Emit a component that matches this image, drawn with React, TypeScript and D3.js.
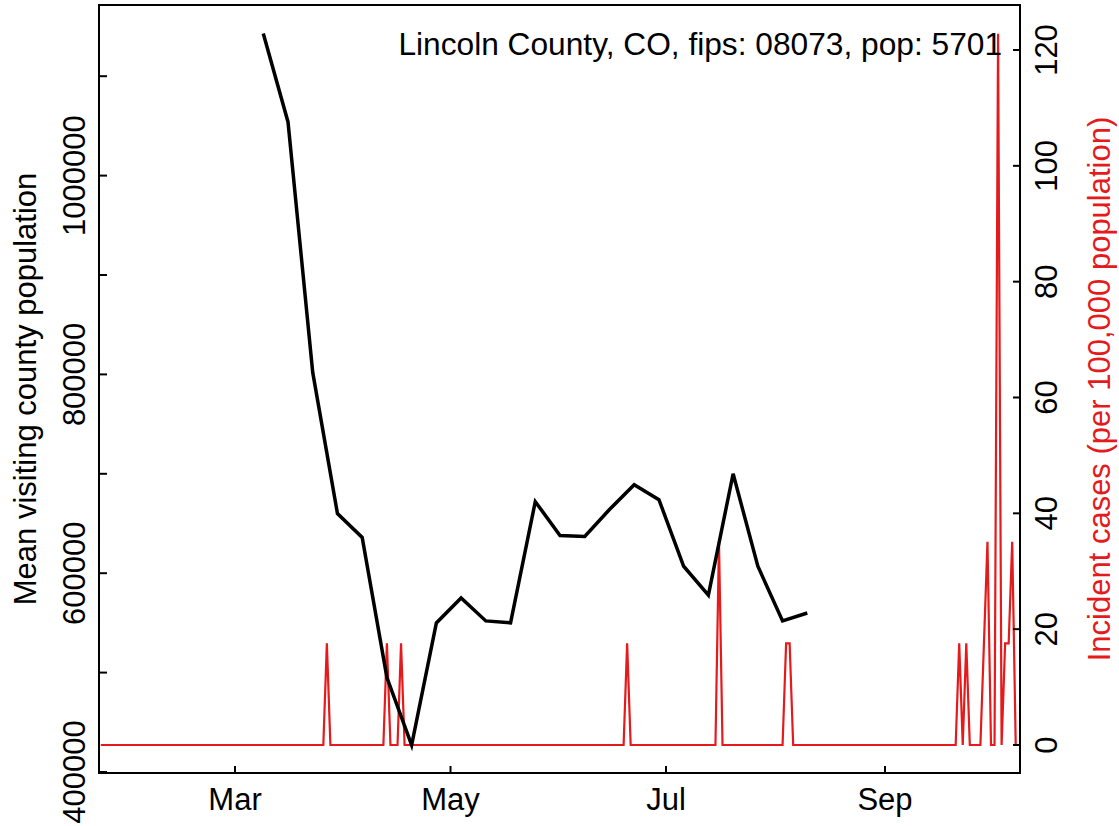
import * as d3 from 'd3';

// weekly mean visiting county population (black line)
const visitWeeks = [
  '2020-03-09', '2020-03-16', '2020-03-23', '2020-03-30', '2020-04-06', '2020-04-13',
  '2020-04-20', '2020-04-27', '2020-05-04', '2020-05-11', '2020-05-18', '2020-05-25',
  '2020-06-01', '2020-06-08', '2020-06-15', '2020-06-22', '2020-06-29', '2020-07-06',
  '2020-07-13', '2020-07-20', '2020-07-27', '2020-08-03', '2020-08-10',
];
const visitPop = [
  1143000, 1054000, 802000, 660000, 636000, 495000, 427000, 550000, 575000, 552000, 550000, 672000,
  638000, 637000, 664000, 689000, 674000, 607000, 578000, 700000, 607000, 552000, 560000,
];

// daily new cases, Jan 23 .. Oct 8 2020
const caseStart = '2020-01-23';
const dailyCases = [
  0, 0, 0, 0, 0, 0, 0, 0, 0, // Jan 23-31
  0, 0, 0, 0, 0, 0, 0, 0, 0, 0, 0, 0, 0, 0, 0, 0, 0, 0, 0, 0, 0, 0, 0, 0, 0, 0, 0, 0, 0, // Feb
  0, 0, 0, 0, 0, 0, 0, 0, 0, 0, 0, 0, 0, 0, 0, 0, 0, 0, 0, 0, 0, 0, 0, 0, 0, 0, 1, 0, 0, 0, 0, // Mar
  0, 0, 0, 0, 0, 0, 0, 0, 0, 0, 0, 0, 1, 0, 0, 0, 1, 0, 0, 0, 0, 0, 0, 0, 0, 0, 0, 0, 0, 0, // Apr
  0, 0, 0, 0, 0, 0, 0, 0, 0, 0, 0, 0, 0, 0, 0, 0, 0, 0, 0, 0, 0, 0, 0, 0, 0, 0, 0, 0, 0, 0, 0, // May
  0, 0, 0, 0, 0, 0, 0, 0, 0, 0, 0, 0, 0, 0, 0, 0, 0, 0, 0, 1, 0, 0, 0, 0, 0, 0, 0, 0, 0, 0, // Jun
  0, 0, 0, 0, 0, 0, 0, 0, 0, 0, 0, 0, 0, 0, 0, 2, 0, 0, 0, 0, 0, 0, 0, 0, 0, 0, 0, 0, 0, 0, 0, // Jul
  0, 0, 0, 1, 1, 0, 0, 0, 0, 0, 0, 0, 0, 0, 0, 0, 0, 0, 0, 0, 0, 0, 0, 0, 0, 0, 0, 0, 0, 0, 0, // Aug
  0, 0, 0, 0, 0, 0, 0, 0, 0, 0, 0, 0, 0, 0, 0, 0, 0, 0, 0, 0, 0, 1, 0, 1, 0, 0, 0, 0, 1, 2, // Sep
  0, 0, 7, 0, 1, 1, 2, 0, // Oct 1-8
];
const population = 5701;

const leftTicks = [400000, 500000, 600000, 700000, 800000, 900000, 1000000, 1100000];
const leftLabels = [400000, 600000, 800000, 1000000];
const rightTicks = [0, 20, 40, 60, 80, 100, 120];
const monthTicks = ['2020-03-01', '2020-05-01', '2020-07-01', '2020-09-01'];

const W = 1119;
const H = 826;
const box = { left: 99, right: 1020, top: 5, bottom: 773 };
const RED = '#e41a1c';
const FONT = '"Liberation Sans", Arial, Helvetica, sans-serif';

const parse = (s: string) => {
  const [y, m, d] = s.split('-').map(Number);
  return new Date(y, m - 1, d);
};

export default function App() {
  const x = d3.scaleTime()
    .domain([new Date(2020, 0, 22, 12), new Date(2020, 9, 9, 5)])
    .range([box.left, box.right]);
  const yL = d3.scaleLinear().domain([400000, 1100000]).range([772, 76.2]);
  const yR = d3.scaleLinear().domain([0, 120]).range([745, 50]);

  const start = parse(caseStart);
  const incid = dailyCases.map((c, i) => ({
    date: d3.timeDay.offset(start, i),
    v: (c * 100000) / population,
  }));
  const visits = visitWeeks.map((d, i) => ({ date: parse(d), v: visitPop[i] }));

  const redLine = d3.line<{ date: Date; v: number }>().x((d) => x(d.date)).y((d) => yR(d.v));
  const blackLine = d3.line<{ date: Date; v: number }>().x((d) => x(d.date)).y((d) => yL(d.v));

  const tick = 8;
  const labY = (box.top + box.bottom) / 2;

  return (
    <svg
      width={W}
      height={H}
      style={{ position: 'absolute', left: 0, top: 0, background: '#fff' }}
      fontFamily={FONT}
    >
      <rect x={0} y={0} width={W} height={H} fill="#fff" />

      <path d={redLine(incid) ?? ''} fill="none" stroke={RED} strokeWidth={2.2} strokeLinejoin="miter" />
      <path d={blackLine(visits) ?? ''} fill="none" stroke="#000" strokeWidth={3.5} strokeLinejoin="miter" />

      <rect
        x={box.left}
        y={box.top}
        width={box.right - box.left}
        height={box.bottom - box.top}
        fill="none"
        stroke="#000"
        strokeWidth={2}
      />

      {/* left axis */}
      {leftTicks.map((t) => (
        <line key={t} x1={box.left} x2={box.left + tick} y1={yL(t)} y2={yL(t)} stroke="#000" strokeWidth={2} />
      ))}
      {leftLabels.map((t) => (
        <text key={t} transform={`translate(85,${yL(t)}) rotate(-90)`} textAnchor="middle" fontSize={31}>
          {t}
        </text>
      ))}
      <text transform={`translate(36,${labY}) rotate(-90)`} textAnchor="middle" fontSize={31}>
        Mean visiting county population
      </text>

      {/* right axis */}
      {rightTicks.map((t) => (
        <g key={t}>
          <line x1={box.right - tick + 1} x2={box.right} y1={yR(t)} y2={yR(t)} stroke="#000" strokeWidth={2} />
          <text transform={`translate(1057,${yR(t)}) rotate(-90)`} textAnchor="middle" fontSize={31}>
            {t}
          </text>
        </g>
      ))}
      <text transform={`translate(1110,${labY}) rotate(-90)`} textAnchor="middle" fontSize={31} fill={RED}>
        Incident cases (per 100,000 population)
      </text>

      {/* bottom axis */}
      {monthTicks.map((m) => {
        const d = parse(m);
        return (
          <g key={m}>
            <line x1={x(d)} x2={x(d)} y1={box.bottom} y2={box.bottom - tick + 1} stroke="#000" strokeWidth={2} />
            <text x={x(d)} y={810} textAnchor="middle" fontSize={31}>
              {d3.timeFormat('%b')(d)}
            </text>
          </g>
        );
      })}

      <text x={1002} y={55} textAnchor="end" fontSize={31.7}>
        Lincoln County, CO, fips: 08073, pop: 5701
      </text>
    </svg>
  );
}
